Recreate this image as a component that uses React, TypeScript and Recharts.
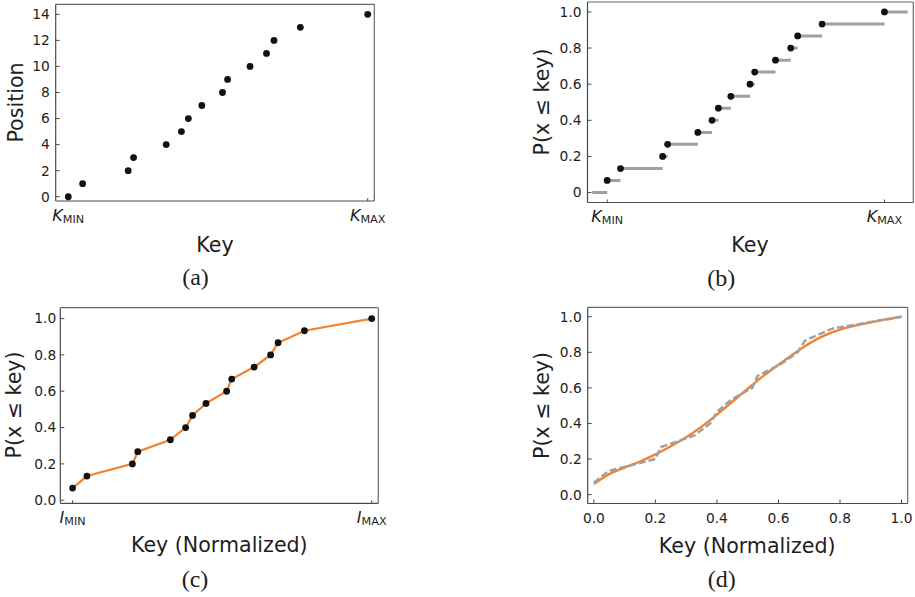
import React from 'react';
import { ComposedChart, Scatter, Line, XAxis, YAxis, ReferenceLine } from 'recharts';

// ---------- data ----------
const positions = [0, 1, 2, 3, 4, 5, 6, 7, 8, 9, 10, 11, 12, 13, 14];
const keysNorm = [0, 0.048, 0.2, 0.218, 0.327, 0.378, 0.401, 0.446, 0.515, 0.532, 0.607, 0.662, 0.687, 0.775, 1.0];
const cdfValues = [0.067, 0.133, 0.2, 0.267, 0.333, 0.4, 0.467, 0.533, 0.6, 0.667, 0.733, 0.8, 0.867, 0.933, 1.0];
const stepLead = { from: -0.054, value: 0 };
const stepTail = { to: 1.084 };
const fitX = [0, 0.05, 0.1, 0.15, 0.2, 0.25, 0.3, 0.35, 0.4, 0.45, 0.5, 0.55, 0.6, 0.65, 0.7, 0.75, 0.8, 0.85, 0.9, 0.95, 1.0];
const fitY = [0.06, 0.115, 0.152, 0.186, 0.226, 0.272, 0.322, 0.382, 0.45, 0.522, 0.595, 0.666, 0.73, 0.792, 0.85, 0.895, 0.928, 0.95, 0.968, 0.985, 1.0];

const posTicks = [0, 2, 4, 6, 8, 10, 12, 14];
const probTicks = [0, 0.2, 0.4, 0.6, 0.8, 1.0];
const boundTicks = [0, 1];
const normTicks = [0, 0.2, 0.4, 0.6, 0.8, 1.0];

// ---------- derived tables ----------
const scatterA = positions.map((p, i) => ({ x: keysNorm[i], y: p }));
const cdfPoints = cdfValues.map((p, i) => ({ x: keysNorm[i], y: p }));
const stepData: { x: number; y: number | null }[] = [];
stepData.push({ x: stepLead.from, y: stepLead.value });
stepData.push({ x: keysNorm[0], y: stepLead.value });
stepData.push({ x: keysNorm[0], y: null });
cdfValues.forEach((p, i) => {
  const end = i < keysNorm.length - 1 ? keysNorm[i + 1] : stepTail.to;
  stepData.push({ x: keysNorm[i], y: p });
  stepData.push({ x: end, y: p });
  stepData.push({ x: end, y: null });
});
const fitData = fitX.map((x, i) => ({ x, y: fitY[i] }));

function minorRange(a: number, b: number, s: number) {
  const out: number[] = [];
  for (let v = a; v <= b + 1e-9; v += s) out.push(Math.round(v * 1000) / 1000);
  return out;
}

// ---------- style ----------
const FONT = '"DejaVu Sans", Verdana, sans-serif';
const SERIF = '"Liberation Serif", "DejaVu Serif", serif';
const AX = '#4a4a4a';
const FRAME = '#6a6a6a';
const TXT = '#1e1e1e';
const ORANGE = '#f28230';
const GRAY = '#a0a0a0';

const Dot = (props: any) => <circle cx={props.cx} cy={props.cy} r={3.4} fill="#111" />;

const makeBoundTick = (letter: string) => (props: any) => {
  const { x, y, payload } = props;
  const sub = payload.value === 0 ? 'MIN' : 'MAX';
  return (
    <text x={x} y={y + 19.5} textAnchor="middle" fill={TXT} fontFamily={FONT}>
      <tspan fontStyle="italic" fontSize={16}>{letter}</tspan>
      <tspan fontSize={11.2} dy={2}>{sub}</tspan>
    </text>
  );
};

type PanelProps = {
  left: number;
  top: number;
  width: number;
  height: number;
  plot: { x0: number; x1: number; y0: number; y1: number };
  xDomain: [number, number];
  yDomain: [number, number];
  xTicks: number[];
  yTicks: number[];
  xMinor?: number[];
  yMinor?: number[];
  xTick: any;
  xFormat?: (v: number) => string;
  xTickSize: number;
  xTickMargin: number;
  yFormat: (v: number) => string;
  yTickMargin: number;
  children: React.ReactNode;
};

function Panel(p: PanelProps) {
  const yAxisWidth = p.plot.x0 - p.left;
  const margin = {
    top: p.plot.y0 - p.top,
    right: p.left + p.width - p.plot.x1,
    left: 0,
    bottom: p.top + p.height - p.plot.y1 - 30,
  };
  return (
    <div style={{ position: 'absolute', left: p.left, top: p.top }}>
      <ComposedChart width={p.width} height={p.height} margin={margin}>
        <XAxis
          type="number"
          dataKey="x"
          domain={p.xDomain}
          allowDataOverflow
          ticks={p.xTicks}
          interval={0}
          height={30}
          tickSize={p.xTickSize}
          tickMargin={p.xTickMargin}
          tick={p.xTick}
          tickFormatter={p.xFormat}
          axisLine={{ stroke: AX, strokeWidth: 1.2 }}
          tickLine={{ stroke: AX, strokeWidth: 1 }}
        />
        <YAxis
          type="number"
          dataKey="y"
          domain={p.yDomain}
          allowDataOverflow
          ticks={p.yTicks}
          interval={0}
          width={yAxisWidth}
          tickSize={-4}
          tickMargin={p.yTickMargin}
          tickFormatter={p.yFormat}
          tick={{ fontSize: 13.8, fill: TXT, fontFamily: FONT }}
          axisLine={{ stroke: AX, strokeWidth: 1.2 }}
          tickLine={{ stroke: AX, strokeWidth: 1 }}
        />
        {p.xMinor ? (
          <XAxis
            xAxisId="minor"
            type="number"
            domain={p.xDomain}
            allowDataOverflow
            ticks={p.xMinor}
            interval={0}
            mirror
            height={0}
            tickSize={2}
            tick={false}
            axisLine={false}
            tickLine={{ stroke: AX, strokeWidth: 1 }}
          />
        ) : null}
        {p.yMinor ? (
          <YAxis
            yAxisId="minor"
            type="number"
            domain={p.yDomain}
            allowDataOverflow
            ticks={p.yMinor}
            interval={0}
            mirror
            width={0}
            tickSize={2}
            tick={false}
            axisLine={false}
            tickLine={{ stroke: AX, strokeWidth: 1 }}
          />
        ) : null}
        <ReferenceLine x={p.xDomain[1]} stroke={FRAME} strokeWidth={1.2} ifOverflow="visible" />
        <ReferenceLine y={p.yDomain[1]} stroke={FRAME} strokeWidth={1.2} ifOverflow="visible" />
        {p.children}
      </ComposedChart>
    </div>
  );
}

const fmtInt = (v: number) => String(v);
const fmtProbB = (v: number) => (v === 0 ? '0' : v.toFixed(1));
const fmtProb = (v: number) => v.toFixed(1);
const fmtNorm = (v: number) => v.toFixed(1);

export default function App() {
  return (
    <div style={{ position: 'absolute', left: 0, top: 0, width: 915, height: 597, background: '#fff', overflow: 'hidden' }}>
      {/* (a) */}
      <Panel
        left={0}
        top={0}
        width={460}
        height={300}
        plot={{ x0: 55.7, x1: 374.3, y0: 4.3, y1: 201 }}
        xDomain={[-0.042, 1.022]}
        yDomain={[-0.33, 14.77]}
        xTicks={boundTicks}
        yTicks={posTicks}
        yMinor={minorRange(0, 14.5, 0.5)}
        xTick={makeBoundTick('K')}
        xTickSize={-3}
        xTickMargin={3}
        yFormat={fmtInt}
        yTickMargin={10}
      >
        <Scatter data={scatterA} shape={Dot} isAnimationActive={false} />
      </Panel>

      {/* (b) */}
      <Panel
        left={455}
        top={0}
        width={460}
        height={300}
        plot={{ x0: 587.5, x1: 913.3, y0: 2, y1: 202.5 }}
        xDomain={[-0.071, 1.104]}
        yDomain={[-0.055, 1.055]}
        xTicks={boundTicks}
        yTicks={probTicks}
        yMinor={minorRange(0, 1.05, 0.05)}
        xTick={makeBoundTick('K')}
        xTickSize={-3}
        xTickMargin={3}
        yFormat={fmtProbB}
        yTickMargin={10}
      >
        <Line
          data={stepData}
          dataKey="y"
          type="linear"
          stroke={GRAY}
          strokeWidth={3}
          dot={false}
          activeDot={false}
          connectNulls={false}
          isAnimationActive={false}
        />
        <Scatter data={cdfPoints} shape={Dot} isAnimationActive={false} />
      </Panel>

      {/* (c) */}
      <Panel
        left={0}
        top={300}
        width={460}
        height={297}
        plot={{ x0: 60.3, x1: 378.3, y0: 307.7, y1: 503.3 }}
        xDomain={[-0.041, 1.022]}
        yDomain={[-0.017, 1.06]}
        xTicks={boundTicks}
        yTicks={probTicks}
        yMinor={minorRange(0, 1.05, 0.05)}
        xTick={makeBoundTick('I')}
        xTickSize={-3}
        xTickMargin={3}
        yFormat={fmtProb}
        yTickMargin={8}
      >
        <Line
          data={cdfPoints}
          dataKey="y"
          type="linear"
          stroke={ORANGE}
          strokeWidth={2.2}
          dot={false}
          activeDot={false}
          isAnimationActive={false}
        />
        <Scatter data={cdfPoints} shape={Dot} isAnimationActive={false} />
      </Panel>

      {/* (d) */}
      <Panel
        left={455}
        top={300}
        width={460}
        height={297}
        plot={{ x0: 587.7, x1: 907.7, y0: 307.3, y1: 503.5 }}
        xDomain={[-0.02, 1.02]}
        yDomain={[-0.05, 1.053]}
        xTicks={normTicks}
        yTicks={probTicks}
        xMinor={minorRange(0, 1, 0.05)}
        yMinor={minorRange(0, 1.05, 0.05)}
        xTick={{ fontSize: 13.8, fill: TXT, fontFamily: FONT }}
        xFormat={fmtNorm}
        xTickSize={-4}
        xTickMargin={14}
        yFormat={fmtProb}
        yTickMargin={10}
      >
        <Line
          data={fitData}
          dataKey="y"
          type="monotone"
          stroke={ORANGE}
          strokeWidth={2.4}
          dot={false}
          activeDot={false}
          isAnimationActive={false}
        />
        <Line
          data={cdfPoints}
          dataKey="y"
          type="linear"
          stroke={GRAY}
          strokeWidth={2.5}
          strokeDasharray="7 3"
          dot={false}
          activeDot={false}
          isAnimationActive={false}
        />
      </Panel>

      {/* axis titles and captions */}
      <svg width={915} height={597} style={{ position: 'absolute', left: 0, top: 0, pointerEvents: 'none' }}>
        <g fontFamily={FONT} fontSize={20.6} fill={TXT}>
          <text transform="translate(22.5,102.5) rotate(-90)" textAnchor="middle">Position</text>
          <text x={215} y={251.5} textAnchor="middle">Key</text>
          <text transform="translate(548.7,102) rotate(-90)" textAnchor="middle">P(x ≤ key)</text>
          <text x={750} y={252} textAnchor="middle">Key</text>
          <text transform="translate(21.4,405) rotate(-90)" textAnchor="middle">P(x ≤ key)</text>
          <text x={219.3} y={552} textAnchor="middle">Key (Normalized)</text>
          <text transform="translate(548.7,405.5) rotate(-90)" textAnchor="middle">P(x ≤ key)</text>
          <text x={747.2} y={553} textAnchor="middle">Key (Normalized)</text>
        </g>
        <g fontFamily={SERIF} fontSize={24} fill={TXT}>
          <text x={195.5} y={285} textAnchor="middle">(a)</text>
          <text x={721.2} y={285.5} textAnchor="middle">(b)</text>
          <text x={195} y={587} textAnchor="middle">(c)</text>
          <text x={721.7} y={587} textAnchor="middle">(d)</text>
        </g>
      </svg>
    </div>
  );
}
